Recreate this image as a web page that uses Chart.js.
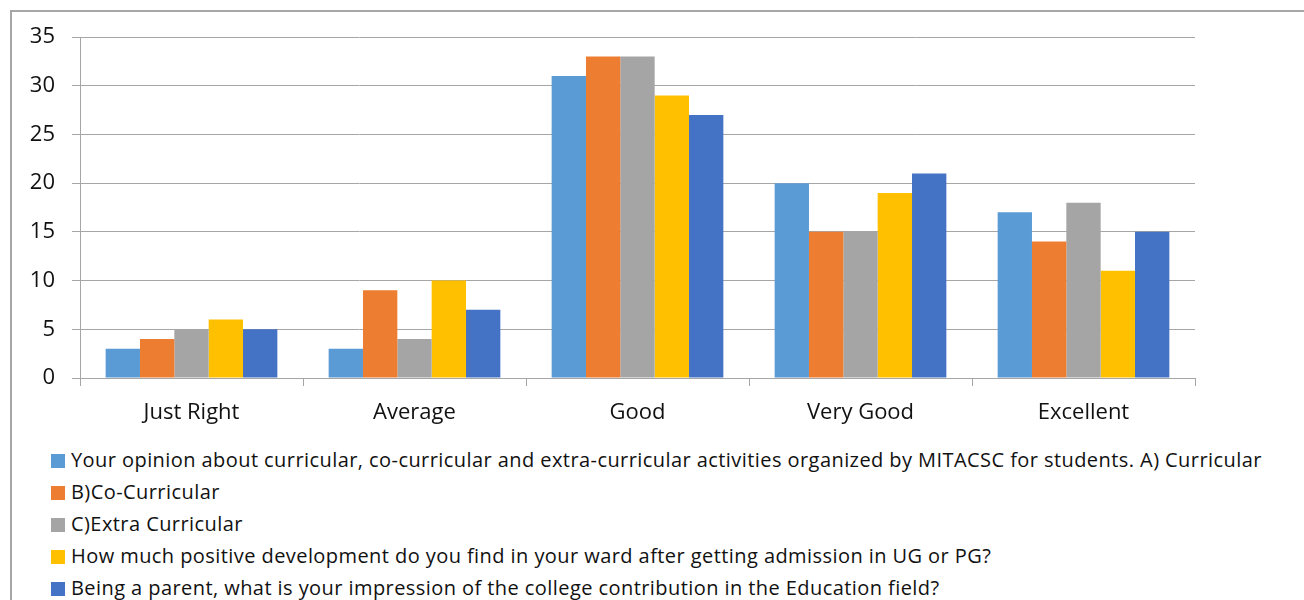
<!DOCTYPE html>
<html>
<head>
<meta charset="utf-8">
<script src="https://cdn.jsdelivr.net/npm/chart.js@4"></script>
<style>
  body { margin: 0; background: #fff; font-family: "Open Sans", sans-serif; }
  #frame { position: absolute; left: 10px; top: 10px; width: 1400px; height: 700px; border: 2px solid #a6a6a6; box-sizing: border-box; }
  #wrap { position: absolute; left: 0; top: 0; width: 1304px; height: 430px; }
  #legend { position: absolute; left: 51px; top: 446px; font-size: 20px; letter-spacing: 0.43px; color: #111; }
  #legend div { height: 32px; line-height: 28px; white-space: nowrap; }
  #legend span { display: inline-block; width: 14px; height: 14px; margin-right: 6px; vertical-align: -1px; }
</style>
</head>
<body>
<div id="frame"></div>
<div id="wrap"><canvas id="chart"></canvas></div>
<div id="legend"></div>
<script>
var categories = ['Just Right', 'Average', 'Good', 'Very Good', 'Excellent'];
var seriesNames = [
  'Your opinion about curricular, co-curricular and extra-curricular activities organized by MITACSC for students. A) Curricular',
  'B)Co-Curricular',
  'C)Extra Curricular',
  'How much positive development do you find in your ward after getting admission in UG or PG?',
  'Being a parent, what is your impression of the college contribution in the Education field?'
];
var curricular = [3, 3, 31, 20, 17];
var coCurricular = [4, 9, 33, 15, 14];
var extraCurricular = [5, 4, 33, 15, 18];
var development = [6, 10, 29, 19, 11];
var contribution = [5, 7, 27, 21, 15];
var yTicks = [0, 5, 10, 15, 20, 25, 30, 35];
var colors = ['#5B9BD5', '#ED7D31', '#A5A5A5', '#FFC000', '#4472C4'];

var values = [curricular, coCurricular, extraCurricular, development, contribution];
var datasets = [];
for (var i = 0; i < values.length; i++) {
  datasets.push({
    label: seriesNames[i],
    data: values[i],
    backgroundColor: colors[i],
    categoryPercentage: 0.77,
    barPercentage: 1.0
  });
}

var ctx = document.getElementById('chart').getContext('2d');
var chart = new Chart(ctx, {
  type: 'bar',
  data: { labels: categories, datasets: datasets },
  options: {
    responsive: true,
    maintainAspectRatio: false,
    animation: false,
    layout: { padding: { left: 10, right: 109, top: 37, bottom: 0 } },
    plugins: { legend: { display: false }, tooltip: { enabled: false } },
    scales: {
      x: {
        afterFit: function (s) { s.height = 52; },
        grid: { offset: true, drawOnChartArea: false, drawTicks: true, tickLength: 8, color: '#a6a6a6' },
        border: { color: '#a6a6a6', width: 1 },
        ticks: { color: '#111', font: { family: 'Open Sans', size: 22 }, padding: 14 }
      },
      y: {
        min: 0,
        max: 35,
        afterFit: function (s) { s.width = 70; },
        afterBuildTicks: function (s) { s.ticks = yTicks.map(function (v) { return { value: v }; }); },
        grid: { color: '#a6a6a6', tickLength: 8 },
        border: { color: '#a6a6a6', width: 1 },
        ticks: { color: '#111', font: { family: 'Open Sans', size: 22 }, padding: 17 }
      }
    }
  }
});

var legend = document.getElementById('legend');
chart.data.datasets.forEach(function (d) {
  var row = document.createElement('div');
  var box = document.createElement('span');
  box.style.background = d.backgroundColor;
  row.appendChild(box);
  row.appendChild(document.createTextNode(d.label));
  legend.appendChild(row);
});
</script>
</body>
</html>
